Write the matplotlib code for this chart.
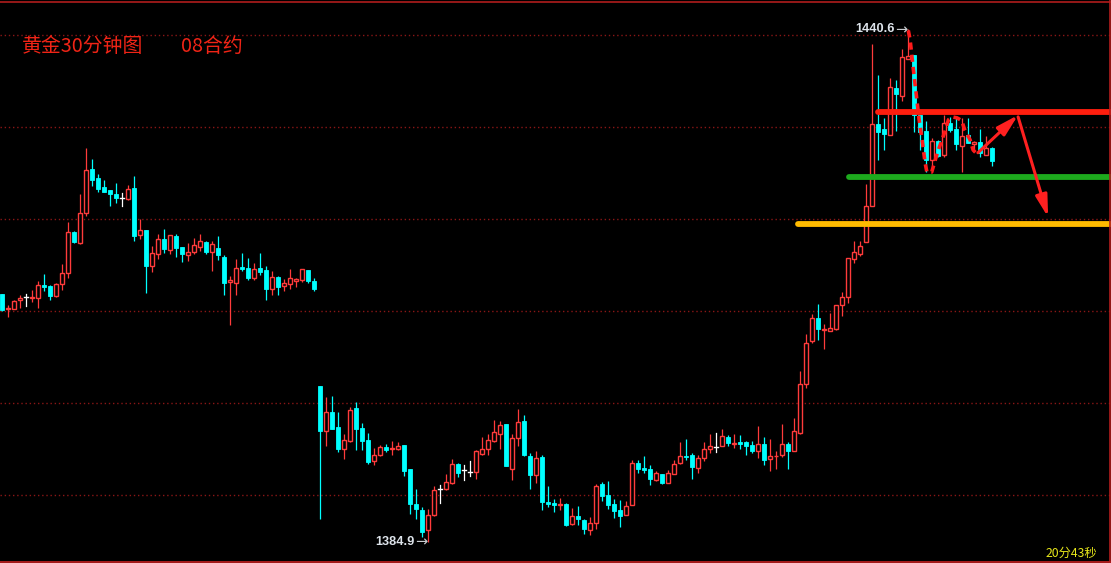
import matplotlib
matplotlib.use("Agg")
import matplotlib.pyplot as plt
from matplotlib.patches import Rectangle
from matplotlib.lines import Line2D

# ---------------- data (30-minute gold candles) ----------------
opens = [1411.8, 1410.18, 1410.25, 1411.15, 1411.5, 1411.36, 1411.36, 1412.87, 1412.76, 1411.68,
         1412.9, 1414.16, 1418.64, 1417.38, 1420.65, 1425.41, 1424.44, 1423.48, 1423.15, 1422.72,
         1422.26, 1422.22, 1423.37, 1418.24, 1418.85, 1414.91, 1416.2, 1417.78, 1416.63, 1418.1,
         1416.92, 1416.09, 1416.42, 1416.95, 1417.46, 1416.42, 1416.81, 1415.84, 1413.15, 1413.05,
         1414.77, 1414.66, 1413.58, 1414.66, 1414.44, 1412.4, 1413.69, 1412.72, 1412.94, 1413.3,
         1413.37, 1414.44, 1413.26,
         1401.88, 1397.0, 1398.99, 1397.36, 1394.95, 1395.88, 1399.42, 1397.26, 1395.99, 1393.75,
         1394.3, 1395.27, 1394.95, 1395.05, 1395.45, 1392.85, 1389.03, 1388.41, 1386.17, 1387.83,
         1390.69, 1390.61, 1391.34, 1393.39, 1392.74, 1392.49, 1392.49, 1394.51, 1395.05, 1395.92,
         1396.68, 1397.73, 1392.78, 1396.17, 1398.05, 1394.26, 1392.13, 1394.15, 1389.28, 1389.13,
         1388.95, 1389.06, 1386.81, 1387.75, 1387.32, 1386.2, 1386.92, 1391.23, 1390.04, 1389.06,
         1388.41, 1387.79, 1388.88, 1393.51, 1392.97, 1392.86, 1391.67, 1392.32, 1391.27, 1392.32,
         1393.44, 1394.28, 1394.38, 1392.97, 1393.99, 1394.96, 1395.22, 1395.29, 1396.34, 1395.51,
         1395.76, 1395.76, 1395.47, 1394.75, 1395.58, 1393.88, 1394.24, 1394.31, 1395.58, 1394.82,
         1396.78, 1402.1, 1406.7, 1409.24, 1407.97, 1407.86, 1408.0, 1410.62, 1411.5, 1415.65,
         1416.2, 1417.5, 1421.38, 1430.29, 1429.78, 1429.17, 1434.24, 1433.41, 1437.43, 1437.83,
         1431.3, 1429.57, 1426.41, 1428.48, 1426.96, 1430.4, 1429.78, 1427.97, 1429.13, 1428.15,
         1428.33, 1426.96, 1427.68]
highs = [1411.9, 1410.6, 1411.15, 1411.7, 1411.8, 1412.3, 1413.26, 1414.0, 1412.87, 1413.05,
         1415.1, 1419.71, 1418.75, 1422.72, 1427.67, 1426.49, 1424.87, 1424.23, 1423.15, 1423.9,
         1422.83, 1423.69, 1424.66, 1420.04, 1418.85, 1417.06, 1418.32, 1418.96, 1418.21, 1418.32,
         1416.92, 1417.35, 1417.89, 1418.32, 1417.56, 1417.56, 1418.1, 1416.06, 1413.8, 1415.63,
         1416.27, 1415.73, 1415.2, 1416.27, 1414.87, 1414.34, 1413.8, 1413.48, 1414.55, 1413.58,
         1414.55, 1414.44, 1413.58,
         1401.88, 1400.61, 1400.72, 1398.99, 1396.64, 1399.53, 1400.07, 1397.83, 1396.75, 1395.13,
         1395.45, 1395.49, 1395.88, 1395.74, 1395.45, 1392.85, 1390.69, 1388.7, 1388.52, 1390.97,
         1391.12, 1392.31, 1393.86, 1393.5, 1393.29, 1393.65, 1394.87, 1396.32, 1396.64, 1398.16,
         1398.01, 1397.73, 1396.64, 1399.35, 1398.7, 1394.58, 1394.8, 1394.37, 1391.01, 1389.6,
         1389.71, 1389.17, 1388.62, 1388.84, 1387.43, 1387.64, 1391.23, 1391.45, 1391.56, 1389.6,
         1389.49, 1389.38, 1393.84, 1393.84, 1394.28, 1393.3, 1392.64, 1392.32, 1392.75, 1393.84,
         1395.8, 1396.12, 1394.6, 1394.38, 1395.8, 1396.67, 1396.78, 1397.21, 1396.56, 1396.67,
         1396.56, 1395.91, 1395.91, 1397.54, 1396.34, 1396.12, 1394.82, 1397.75, 1395.8, 1398.41,
         1403.51, 1407.54, 1409.71, 1410.8, 1408.62, 1409.82, 1410.69, 1412.07, 1415.8, 1417.57,
         1417.57, 1423.84, 1439.06, 1435.65, 1431.01, 1435.29, 1435.11, 1438.44, 1440.6, 1437.83,
         1431.3, 1430.65, 1428.77, 1428.59, 1431.31, 1431.12, 1431.12, 1431.02, 1431.02, 1428.52,
         1429.78, 1429.02, 1427.87]
lows = [1410.0, 1409.3, 1410.18, 1410.36, 1410.5, 1410.97, 1410.36, 1412.15, 1411.25, 1411.47,
        1412.33, 1413.58, 1417.38, 1417.31, 1420.36, 1423.62, 1422.94, 1422.94, 1421.36, 1421.79,
        1421.43, 1422.08, 1417.56, 1417.78, 1411.97, 1414.27, 1415.7, 1416.27, 1416.16, 1415.84,
        1415.34, 1415.41, 1416.16, 1416.49, 1416.16, 1414.34, 1415.56, 1411.76, 1408.53, 1411.76,
        1414.34, 1413.37, 1413.37, 1413.91, 1411.22, 1411.76, 1411.76, 1412.19, 1412.4, 1412.62,
        1413.15, 1413.05, 1412.19,
        1387.44, 1395.38, 1397.18, 1394.66, 1393.86, 1395.81, 1394.84, 1394.84, 1393.32, 1393.21,
        1394.22, 1394.66, 1394.37, 1394.87, 1392.02, 1387.98, 1387.44, 1385.45, 1384.9, 1387.76,
        1389.17, 1390.51, 1391.19, 1391.91, 1391.59, 1392.02, 1391.7, 1394.3, 1394.4, 1395.81,
        1394.95, 1393.1, 1391.59, 1395.38, 1394.19, 1390.61, 1391.3, 1388.34, 1388.7, 1388.16,
        1388.41, 1386.67, 1386.78, 1386.7, 1385.8, 1385.69, 1386.27, 1389.38, 1388.51, 1387.54,
        1386.56, 1387.79, 1388.88, 1392.43, 1392.43, 1391.12, 1391.56, 1391.23, 1391.27, 1392.32,
        1393.41, 1393.84, 1391.78, 1392.43, 1393.73, 1394.6, 1394.71, 1395.29, 1395.36, 1395.14,
        1395.04, 1394.38, 1394.6, 1394.06, 1393.3, 1392.57, 1392.79, 1394.09, 1392.86, 1394.75,
        1396.67, 1401.67, 1406.56, 1406.88, 1405.91, 1407.79, 1407.9, 1409.42, 1410.9, 1415.22,
        1415.94, 1417.5, 1421.38, 1426.41, 1427.5, 1429.17, 1429.57, 1432.86, 1437.43, 1429.49,
        1427.5, 1425.15, 1425.22, 1426.7, 1426.7, 1429.5, 1427.5, 1425.15, 1428.23, 1427.32,
        1426.78, 1426.96, 1425.8]
closes = [1410.1, 1410.36, 1411.08, 1411.4, 1411.5, 1411.54, 1412.83, 1412.65, 1411.58, 1412.94,
          1414.12, 1418.64, 1417.49, 1420.68, 1425.3, 1424.23, 1423.3, 1422.97, 1422.76, 1422.33,
          1422.26, 1423.23, 1418.14, 1418.85, 1414.91, 1416.27, 1417.78, 1416.7, 1418.21, 1416.81,
          1416.16, 1416.45, 1417.13, 1417.56, 1416.38, 1417.24, 1416.06, 1413.05, 1413.37, 1414.66,
          1414.55, 1413.58, 1414.55, 1414.23, 1412.4, 1413.69, 1412.62, 1413.05, 1413.58, 1413.48,
          1414.55, 1413.26, 1412.4,
          1397.0, 1398.99, 1397.18, 1394.95, 1395.96, 1399.21, 1397.18, 1395.92, 1393.57, 1394.33,
          1395.2, 1394.91, 1395.13, 1395.31, 1392.56, 1388.99, 1388.45, 1385.96, 1387.83, 1390.58,
          1390.69, 1391.41, 1393.39, 1392.42, 1392.74, 1392.49, 1394.73, 1395.02, 1395.96, 1396.86,
          1397.62, 1393.1, 1396.17, 1397.91, 1394.3, 1392.13, 1394.01, 1389.21, 1388.99, 1388.88,
          1389.06, 1386.78, 1387.75, 1387.36, 1386.27, 1386.99, 1391.01, 1389.93, 1388.95, 1388.3,
          1387.75, 1388.84, 1393.51, 1392.86, 1392.75, 1391.78, 1392.43, 1391.34, 1392.43, 1393.41,
          1394.28, 1394.17, 1393.08, 1394.06, 1395.04, 1395.33, 1395.22, 1396.45, 1395.69, 1395.69,
          1395.51, 1395.36, 1394.82, 1395.58, 1393.77, 1394.28, 1394.28, 1395.58, 1394.75, 1396.99,
          1402.07, 1406.52, 1409.24, 1408.0, 1408.04, 1408.15, 1410.69, 1411.52, 1415.8, 1416.41,
          1417.1, 1421.41, 1430.33, 1429.49, 1429.24, 1434.31, 1433.62, 1437.57, 1437.72, 1431.3,
          1429.49, 1426.41, 1428.48, 1426.85, 1430.4, 1429.68, 1428.15, 1429.02, 1428.3, 1428.33,
          1427.14, 1427.68, 1426.34]

grid_prices = [1440, 1430, 1420, 1410, 1400, 1390]

# support / resistance levels: (start index, price)
level_red = (146.0, 1431.6)
level_green = (141.1, 1424.6)
level_orange = (132.6, 1419.5)

# hand-drawn dashed path (index, price)
dash_x = [151.0, 151.3, 151.8, 152.3, 152.8, 153.3, 153.8, 154.1, 154.9, 155.9, 157.1, 157.7,
          158.3, 159.1, 159.9, 160.4, 161.3, 161.8, 162.4, 162.9]
dash_y = [1440.5, 1439.5, 1436.5, 1433.7, 1430.8, 1428.6, 1426.1, 1425.1, 1425.1, 1427.3, 1429.5,
          1430.8, 1431.1, 1431.0, 1430.7, 1429.7, 1428.6, 1427.5, 1427.1, 1427.1]

# arrows (index, price)
arrow1 = ((162.6, 1427.2), (169.3, 1431.3))
arrow2 = ((169.3, 1431.1), (174.3, 1420.2))

high_label = (151, 1440.6, "1440.6")
low_label = (71, 1384.9, "1384.9")

# ---------------- drawing ----------------
W, H = 1111, 563
fig = plt.figure(figsize=(W / 100, H / 100), dpi=100, facecolor="black")
ax = fig.add_axes([0, 0, 1, 1])
ax.set_facecolor("black")
for s in ax.spines.values():
    s.set_visible(False)
ax.set_xticks([])
ax.set_yticks([])

x0 = -2.3 / 6
x1 = (W - 2.3) / 6
ax.set_xlim(x0, x1)
ax.set_ylim(1440 - (H - 35) / 9.2, 1440 + 35 / 9.2)

for gp in grid_prices:
    ax.axhline(gp, color="#8a1616", lw=1.0, ls=(0, (1, 2)), zorder=1)

UP = "#ff3b3b"
DN = "#00ffff"
DJ = "#ffffff"
bw = 0.72
for i, (o, h, l, c) in enumerate(zip(opens, highs, lows, closes)):
    if c > o:
        ax.plot([i, i], [l, o], color=UP, lw=0.9, zorder=3, solid_capstyle="butt")
        ax.plot([i, i], [c, h], color=UP, lw=0.9, zorder=3, solid_capstyle="butt")
        ax.add_patch(Rectangle((i - bw / 2, o), bw, c - o, facecolor="black",
                               edgecolor=UP, lw=1.0, zorder=4))
    elif c < o:
        ax.plot([i, i], [l, h], color=DN, lw=0.9, zorder=3, solid_capstyle="butt")
        ax.add_patch(Rectangle((i - bw / 2, c), bw, o - c, facecolor=DN,
                               edgecolor=DN, lw=0.6, zorder=4))
    else:
        ax.plot([i, i], [l, h], color=DJ, lw=0.9, zorder=3)
        ax.plot([i - bw / 2, i + bw / 2], [o, o], color=DJ, lw=1.0, zorder=3)

# level lines
for (sx, py), col in [(level_orange, "#ffbb00"), (level_green, "#1daa1d"), (level_red, "#ff1e0e")]:
    ax.plot([sx, x1 + 2], [py, py], color=col, lw=4.2, solid_capstyle="round", zorder=6)

# dashed hand-drawn path
ax.plot(dash_x, dash_y, color="#ff1a1a", lw=2.6, ls=(0, (2.0, 1.4)), zorder=7)

for (sxy, exy) in (arrow1, arrow2):
    ax.annotate("", xy=exy, xytext=sxy,
                arrowprops=dict(arrowstyle="-|>,head_length=1.3,head_width=0.35",
                                color="#ff2020", lw=2.2, shrinkA=0, shrinkB=0),
                zorder=8)

# price labels: number plus a thin arrow pointing at the extreme
for (ix, pr, txt) in (high_label, low_label):
    ax.annotate("\u2192", xy=(ix, pr), xytext=(-1.0, 0), textcoords="offset pixels",
                color="#c8ccd0", fontsize=10.5, family="DejaVu Sans",
                ha="right", va="center", zorder=9)
    ax.annotate(txt, xy=(ix, pr), xytext=(-14, 0), textcoords="offset pixels",
                color="#dde3ea", fontsize=9.2, fontweight="bold",
                family=["Liberation Sans", "DejaVu Sans"], ha="right", va="center", zorder=9)

# title
cjk = ["Noto Sans CJK SC", "DejaVu Sans"]
fig.text(22 / W, 1 - 46 / H, "黄金30分钟图", color="#f02416", fontsize=14.3,
         family=cjk, ha="left", va="center")
fig.text(181 / W, 1 - 46 / H, "08合约", color="#f02416", fontsize=14.3,
         family=cjk, ha="left", va="center")
fig.text(1097 / W, 1 - 553 / H, "20分43秒", color="#e8e81a", fontsize=8.8,
         family=cjk, ha="right", va="center")

# frame lines
BR = "#b01c1c"
fig.add_artist(Line2D([0, 1], [1 - 1.5 / H, 1 - 1.5 / H], color=BR, lw=1.2))
fig.add_artist(Line2D([0, 1], [1 - 561.5 / H, 1 - 561.5 / H], color="#c42020", lw=1.2))
fig.add_artist(Line2D([1109.5 / W, 1109.5 / W], [0, 1], color=BR, lw=1.2))

fig.savefig("out.png", dpi=100, facecolor="black")
